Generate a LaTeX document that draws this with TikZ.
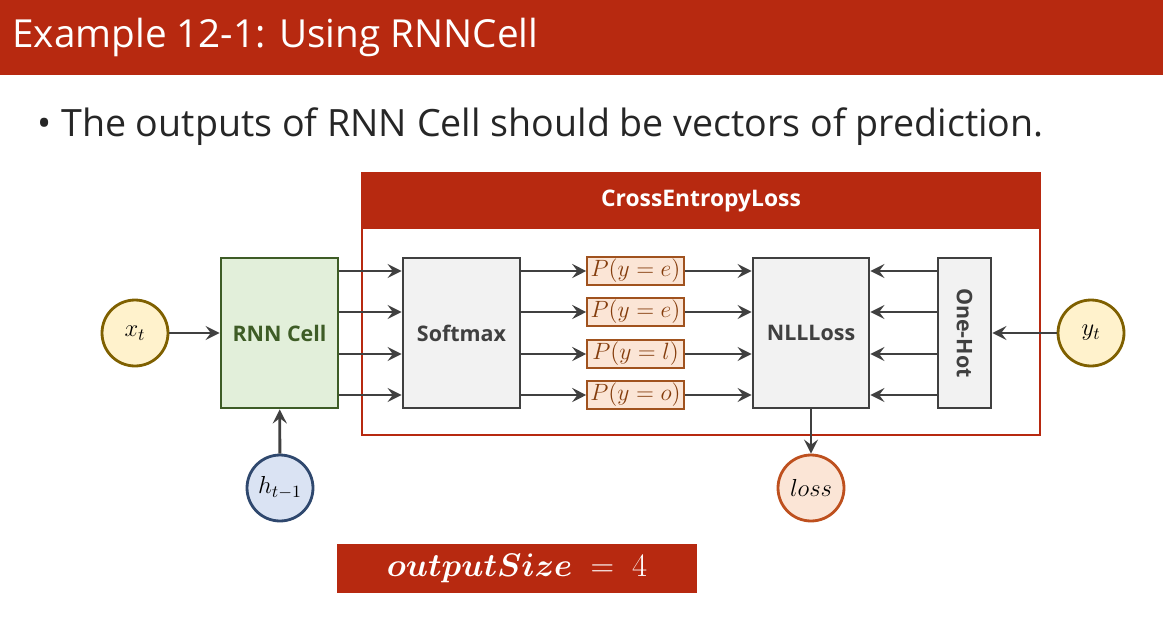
\RequirePackage{fix-cm}
\documentclass[tikz,border=0pt]{standalone}
\usepackage{amsmath,bm}
\usepackage{fontspec}
\setmainfont{Open Sans}
\usetikzlibrary{arrows.meta}

\definecolor{slidered}{RGB}{183,41,16}
\definecolor{linegray}{RGB}{64,64,64}
\definecolor{boxgray}{RGB}{242,242,242}
\definecolor{cellfill}{RGB}{226,239,218}
\definecolor{cellline}{RGB}{62,92,38}
\definecolor{probfill}{RGB}{251,229,214}
\definecolor{probline}{RGB}{160,82,30}
\definecolor{probtext}{RGB}{132,60,12}
\definecolor{infill}{RGB}{255,242,204}
\definecolor{inline}{RGB}{127,96,0}
\definecolor{hidfill}{RGB}{218,227,243}
\definecolor{hidline}{RGB}{47,72,110}
\definecolor{lossline}{RGB}{190,80,30}

\begin{document}
\begin{tikzpicture}[
        x=0.02cm, y=-0.02cm,
        arr/.style={draw=linegray, line width=1.6pt,
                -{Stealth[length=8pt, width=8pt, inset=3pt]}},
        block/.style={
                draw=linegray, line width=1.6pt, fill=boxgray,
                text=linegray, inner sep=0pt,
                font=\bfseries\fontsize{12.2}{14}\selectfont,
                minimum width=2.34cm, minimum height=3cm
            },
        prob/.style={
                draw=probline, line width=0.9pt, fill=probfill,
                text=probtext, inner sep=0pt,
                font=\fontsize{13.4}{15}\selectfont,
                minimum width=1.94cm, minimum height=0.56cm
            },
        var/.style={
                circle, line width=1.6pt, inner sep=0pt,
                minimum size=1.32cm,
                font=\fontsize{14}{16}\selectfont
            }
    ]

    \useasboundingbox (0,0) rectangle (1163,619);

    % Title bar
    \node[fill=slidered, minimum width=23.26cm, minimum height=1.5cm,
        inner sep=0pt, anchor=north west] (bar) at (0,0) {};
    \node[anchor=west, text=white, inner sep=0pt,
        font=\fontsize{22}{26}\selectfont] (title) at (12,37)
    {Example 12-1: Using RNNCell};
    \node[anchor=west, text=black!85, inner sep=0pt,
        font=\fontsize{21.4}{25}\selectfont] (bullet) at (37,127)
    {\textbullet\ The outputs of RNN Cell should be vectors of prediction.};

    % CrossEntropyLoss frame
    \node[draw=slidered, line width=1.2pt, minimum width=13.56cm,
        minimum height=5.24cm, inner sep=0pt] (ce) at (701,304) {};
    \node[fill=slidered, text=white, anchor=north, inner sep=0pt,
        minimum width=13.56cm, minimum height=1.14cm,
        font=\bfseries\fontsize{13}{15}\selectfont] (cehead) at (ce.north)
    {CrossEntropyLoss};

    \node[block, fill=cellfill, draw=cellline, text=cellline] (rnn) at (279.5,333) {RNN Cell};
    \node[block] (soft) at (461.5,333) {Softmax};
    \node[block, minimum width=2.32cm] (nll) at (811,333) {NLLLoss};
    \node[block, minimum width=1.06cm] (hot) at (964.5,333)
    {\rotatebox{-90}{One-Hot}};

    \node[prob] (p1) at (635.5,271) {$P(y=e)$};
    \node[prob] (p2) at (635.5,312) {$P(y=e)$};
    \node[prob] (p3) at (635.5,354) {$P(y=l)$};
    \node[prob] (p4) at (635.5,395) {$P(y=o)$};

    \node[var, draw=inline, fill=infill] (xt) at (135,333) {$x_t$};
    \node[var, draw=inline, fill=infill] (yt) at (1091,333) {$y_t$};
    \node[var, draw=hidline, fill=hidfill] (ht) at (280,488) {$h_{t-1}$};
    \node[var, draw=lossline, fill=probfill] (loss) at (811,488) {$loss$};

    \node[fill=slidered, text=white, inner sep=0pt, minimum width=7.2cm,
        minimum height=0.98cm, font=\fontsize{18.6}{21}\selectfont] (osize) at (517,568.5)
    {$\bm{outputSize}\;=\;4$};

    \foreach \p in {p1,p2,p3,p4} {
            \draw[arr] (rnn.east |- \p) -- (soft.west |- \p);
            \draw[arr] (soft.east |- \p) -- (\p);
            \draw[arr] (\p) -- (nll.west |- \p);
            \draw[arr] (hot.west |- \p) -- (nll.east |- \p);
        }

    \draw[arr] (xt) -- (rnn);
    \draw[arr] (ht) -- (rnn);
    \draw[arr] (yt) -- (hot);
    \draw[arr] (nll) -- (loss);

\end{tikzpicture}
\end{document}
